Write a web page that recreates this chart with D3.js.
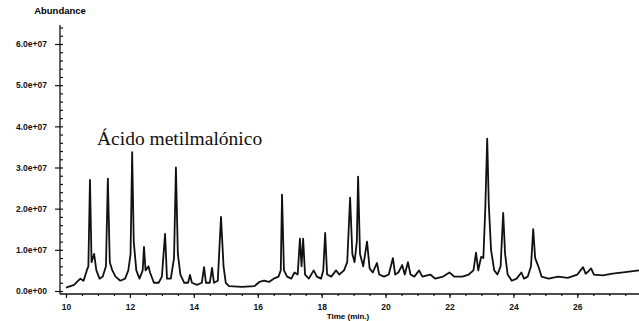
<!DOCTYPE html>
<html>
<head>
<meta charset="utf-8">
<script src="https://cdn.jsdelivr.net/npm/d3@7"></script>
<style>
  body { margin: 0; background: #fff; }
  svg { display: block; }
  .tick text { font-family: "Liberation Sans", Arial, sans-serif; font-weight: bold; font-size: 8.5px; fill: #111; }
  .tick line { stroke: #111; stroke-width: 1.2; }
</style>
</head>
<body>
<svg id="chart" width="639" height="321"></svg>
<script>
// chromatogram trace: [time (min), abundance]
var traceTimes = [10.0, 10.25, 10.45, 10.55, 10.65, 10.7, 10.75, 10.8, 10.88, 10.95, 11.05, 11.15, 11.25, 11.31, 11.37, 11.45, 11.55, 11.7, 11.85, 11.95,
  12.02, 12.07, 12.12, 12.2, 12.3, 12.4, 12.44, 12.49, 12.58, 12.63, 12.75, 12.9, 13.0, 13.1, 13.16, 13.28, 13.38, 13.44, 13.5, 13.58,
  13.7, 13.82, 13.88, 13.94, 14.1, 14.25, 14.32, 14.38, 14.5, 14.57, 14.63, 14.75, 14.85, 14.93, 15.0, 15.1, 15.5, 15.9, 16.05, 16.2,
  16.35, 16.5, 16.65, 16.72, 16.76, 16.82, 16.92, 17.05, 17.15, 17.25, 17.32, 17.37, 17.42, 17.48, 17.6, 17.75, 17.85, 17.98, 18.05, 18.11,
  18.17, 18.3, 18.45, 18.55, 18.7, 18.8, 18.89, 18.96, 19.03, 19.1, 19.14, 19.2, 19.3, 19.42, 19.5, 19.6, 19.73, 19.8, 19.95, 20.1,
  20.23, 20.3, 20.4, 20.52, 20.6, 20.7, 20.78, 20.9, 21.05, 21.15, 21.4, 21.55, 21.8, 22.0, 22.15, 22.4, 22.6, 22.75, 22.83, 22.9,
  22.99, 23.06, 23.12, 23.18, 23.23, 23.3, 23.4, 23.5, 23.6, 23.68, 23.74, 23.82, 23.95, 24.1, 24.25, 24.33, 24.45, 24.55, 24.62, 24.68,
  24.78, 24.88, 25.1, 25.4, 25.7, 26.0, 26.1, 26.18, 26.26, 26.35, 26.43, 26.52, 26.8, 27.1, 27.5, 27.93];

var traceValues = [0.08, 0.15, 0.3, 0.25, 0.5, 0.6, 2.7, 0.7, 0.9, 0.5, 0.3, 0.35, 0.6, 2.73, 0.7, 0.5, 0.35, 0.25, 0.3, 0.5,
  0.9, 3.37, 1.2, 0.5, 0.3, 0.5, 1.07, 0.5, 0.6, 0.45, 0.2, 0.2, 0.35, 1.39, 0.3, 0.3, 0.8, 3.0, 0.9, 0.4,
  0.2, 0.2, 0.39, 0.2, 0.15, 0.2, 0.58, 0.2, 0.2, 0.56, 0.2, 0.25, 1.8, 0.6, 0.2, 0.12, 0.1, 0.12, 0.22, 0.25,
  0.22, 0.3, 0.35, 0.5, 2.34, 0.5, 0.35, 0.3, 0.45, 0.4, 1.27, 0.6, 1.27, 0.4, 0.3, 0.5, 0.35, 0.3, 0.5, 1.41,
  0.4, 0.35, 0.5, 0.4, 0.5, 0.7, 2.27, 0.9, 0.7, 1.2, 2.78, 0.9, 0.6, 1.2, 0.55, 0.45, 0.68, 0.4, 0.35, 0.4,
  0.8, 0.4, 0.45, 0.63, 0.4, 0.7, 0.4, 0.35, 0.5, 0.35, 0.4, 0.3, 0.35, 0.45, 0.35, 0.35, 0.4, 0.5, 0.93, 0.5,
  0.83, 0.8, 2.0, 3.7, 2.1, 1.0, 0.5, 0.4, 0.6, 1.9, 0.9, 0.4, 0.25, 0.3, 0.45, 0.3, 0.35, 0.6, 1.5, 0.8,
  0.6, 0.35, 0.3, 0.35, 0.32, 0.4, 0.5, 0.58, 0.42, 0.48, 0.55, 0.4, 0.38, 0.42, 0.46, 0.5]; // x 1e7

var xTickValues = [10, 12, 14, 16, 18, 20, 22, 24, 26];
var yTickValues = [0, 1e7, 2e7, 3e7, 4e7, 5e7, 6e7];
var yTickLabels = ["0.0e+00", "1.0e+07", "2.0e+07", "3.0e+07", "4.0e+07", "5.0e+07", "6.0e+07"];

var svg = d3.select("#chart");

var x = d3.scaleLinear().domain([10, 27.93]).range([66, 639]);
var y = d3.scaleLinear().domain([0, 6e7]).range([291, 44]);

// y axis
var yAxisX = 60;
svg.append("line")
  .attr("x1", yAxisX).attr("x2", yAxisX)
  .attr("y1", 25).attr("y2", 294)
  .attr("stroke", "#111").attr("stroke-width", 1.3);

// minor ticks on the right side of the axis
svg.append("g")
  .attr("transform", "translate(" + yAxisX + ",0)")
  .call(d3.axisRight(y).tickValues(d3.range(0, 6.6e7, 0.2e7)).tickSize(3).tickFormat(""))
  .call(function (g) { g.select(".domain").remove(); });

svg.append("g")
  .attr("transform", "translate(" + yAxisX + ",0)")
  .call(d3.axisLeft(y).tickValues(yTickValues).tickSize(5).tickPadding(8)
    .tickFormat(function (d, i) { return yTickLabels[i]; }))
  .call(function (g) { g.select(".domain").remove(); });

// x axis
var xAxisY = 294;
svg.append("line")
  .attr("x1", yAxisX).attr("x2", 639)
  .attr("y1", xAxisY).attr("y2", xAxisY)
  .attr("stroke", "#111").attr("stroke-width", 1.6);

svg.append("g")
  .attr("transform", "translate(0," + xAxisY + ")")
  .call(d3.axisBottom(x).tickValues(d3.range(10, 28, 0.5)).tickSize(2).tickFormat(""))
  .call(function (g) { g.select(".domain").remove(); });

svg.append("g")
  .attr("transform", "translate(0," + xAxisY + ")")
  .call(d3.axisBottom(x).tickValues(xTickValues).tickSize(4).tickPadding(6).tickFormat(d3.format("d")))
  .call(function (g) { g.select(".domain").remove(); });

// axis titles
svg.append("text")
  .attr("x", 60).attr("y", 14)
  .attr("text-anchor", "middle")
  .style("font-family", "Liberation Sans, Arial, sans-serif")
  .style("font-weight", "bold")
  .style("font-size", "9.5px")
  .text("Abundance");

svg.append("text")
  .attr("x", 348).attr("y", 319)
  .attr("text-anchor", "middle")
  .style("font-family", "Liberation Sans, Arial, sans-serif")
  .style("font-weight", "bold")
  .style("font-size", "8px")
  .text("Time (min.)");

// trace
var line = d3.line()
  .x(function (d) { return x(d[0]); })
  .y(function (d) { return y(d[1] * 1e7); });

svg.append("path")
  .datum(d3.zip(traceTimes, traceValues))
  .attr("d", line)
  .attr("fill", "none")
  .attr("stroke", "#111")
  .attr("stroke-width", 1.8)
  .attr("stroke-linejoin", "round");

// annotation
svg.append("text")
  .attr("x", 97).attr("y", 145)
  .style("font-family", "Liberation Serif, Times New Roman, serif")
  .style("font-size", "19.5px")
  .style("fill", "#111")
  .text("Ácido metilmalónico");
</script>
</body>
</html>
